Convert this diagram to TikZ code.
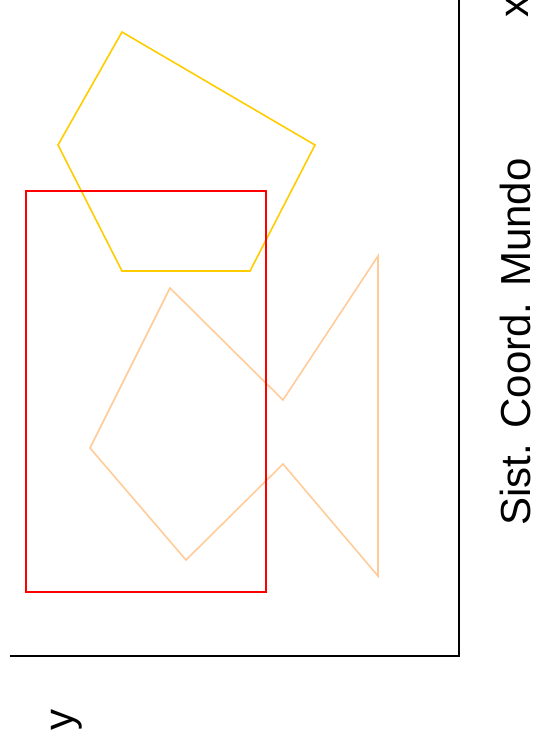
\documentclass[tikz,border=0pt]{standalone}
\usepackage{fontspec}
\setmainfont{Liberation Sans}
\definecolor{pentcol}{HTML}{FFCC00}
\definecolor{fishcol}{HTML}{FFCC99}
\begin{document}
\begin{tikzpicture}[x=1pt,y=-1pt,
  axis/.style={draw=black,line width=2pt},
  shapeline/.style={line width=1.6pt,line join=miter},
  lbl/.style={rotate=90,anchor=base,inner sep=0pt,font=\fontsize{42}{42}\selectfont}]
\useasboundingbox (0,0) rectangle (534,745);
\coordinate (atop) at (458.5,0);
\coordinate (corner) at (458.5,655.5);
\coordinate (aleft) at (10,655.5);
\draw[axis] (atop) -- (corner) -- (aleft);
% pentagon
\draw[shapeline,draw=pentcol] (122,32) -- (315,145) -- (250,271) -- (122,271) -- (58,145) -- cycle;
% fish
\draw[shapeline,draw=fishcol] (170,288) -- (283,400) -- (378,256) -- (378,576) -- (283,464) -- (186,560) -- (90,448) -- cycle;
% rectangle
\draw[shapeline,draw=red] (26,191) rectangle (266,592);
\node[lbl] (xl) at (528,7) {x};
\node[lbl] (yl) at (73,720) {y};
\node[lbl] (title) at (530,342) {Sist. Coord. Mundo};
\end{tikzpicture}
\end{document}
